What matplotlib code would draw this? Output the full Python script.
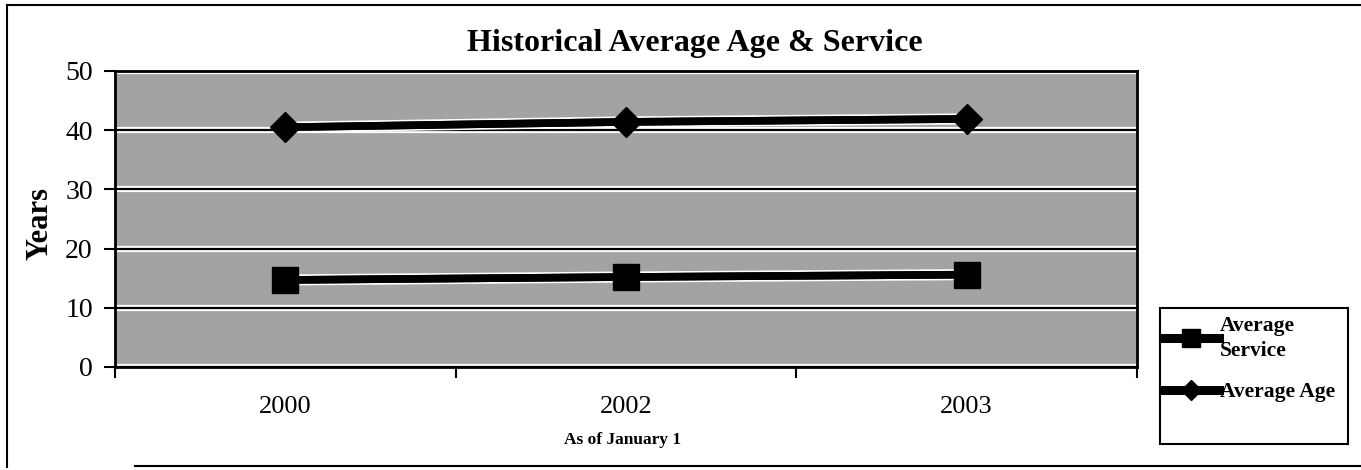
import numpy as np
import matplotlib
matplotlib.use("Agg")
import matplotlib.pyplot as plt
from matplotlib.lines import Line2D
from matplotlib.patches import Rectangle
import matplotlib.patheffects as pe

plt.rcParams['font.family'] = ['Liberation Serif', 'DejaVu Serif']

# Data
years = ['2000', '2002', '2003']
avg_service = [14.7, 15.2, 15.6]
avg_age = [40.5, 41.4, 41.9]
y_ticks = [0, 10, 20, 30, 40, 50]

W, H = 1361, 470
fig = plt.figure(figsize=(W / 100, H / 100), dpi=100)
fig.patch.set_facecolor('white')

def fx(px):
    return px / W

def fy(py):
    return 1 - py / H

ax = fig.add_axes([fx(115), fy(367), fx(1137) - fx(115), fy(71) - fy(367)])
ax.set_facecolor('#a3a3a3')

x = np.arange(len(years))
ax.set_xlim(-0.5, len(years) - 0.5)
ax.set_ylim(0, 50)

# Horizontal gridlines with a light halo
ax.set_yticks(y_ticks)
ax.set_yticklabels([str(v) for v in y_ticks], fontsize=20)
ax.yaxis.grid(True, color='black', linewidth=1.6)
ax.set_axisbelow(True)
for gl in ax.get_ygridlines():
    gl.set_path_effects([pe.withStroke(linewidth=4.5, foreground='white')])

# Category axis: ticks on boundaries, labels centred in each category
ax.set_xticks(np.arange(-0.5, len(years), 1.0))
ax.set_xticklabels([])
ax.set_xticks(x, minor=True)
ax.set_xticklabels(years, minor=True, fontsize=19)
ax.tick_params(axis='x', which='major', direction='out', length=8, width=1.5)
ax.tick_params(axis='x', which='minor', length=0, pad=21)
ax.tick_params(axis='y', direction='out', length=8, width=1.5, pad=8)

for sp in ax.spines.values():
    sp.set_linewidth(2)
    sp.set_color('black')

# Series: thick line with a thin light halo, solid markers on top
halo = [pe.withStroke(linewidth=8.0, foreground='white'), pe.Normal()]
ax.plot(x, avg_service, color='black', lw=5.5, path_effects=halo, zorder=3)
ax.plot(x, avg_service, color='black', ls='none', marker='s', ms=19, zorder=4)
ax.plot(x, avg_age, color='black', lw=5.5, path_effects=halo, zorder=3)
ax.plot(x, avg_age, color='black', ls='none', marker='D', ms=15, zorder=4)

# Titles and labels
fig.text(fx(695), fy(43), 'Historical Average Age & Service', ha='center', va='center',
         fontsize=23, fontweight='bold')
fig.text(fx(40), fy(224), 'Years', ha='center', va='center', rotation=90,
         fontsize=22, fontweight='bold')
fig.text(fx(623), fy(440), 'As of January 1', ha='center', va='center',
         fontsize=12.5, fontweight='bold')

# Legend with its own box
fig.add_artist(Rectangle((fx(1160), fy(444)), fx(1348) - fx(1160), fy(308) - fy(444),
                         transform=fig.transFigure, fill=False, edgecolor='black', lw=1.5))
handles = [
    Line2D([], [], color='black', lw=6.5, marker='s', ms=13),
    Line2D([], [], color='black', lw=6.5, marker='D', ms=10),
]
leg = fig.legend(handles, ['Average\nService', 'Average Age'], loc='upper left',
                 bbox_to_anchor=(fx(1163), fy(316)), frameon=False,
                 prop={'size': 15.5, 'weight': 'bold'},
                 handlelength=2.6, handletextpad=0.05, labelspacing=1.0,
                 borderpad=0, borderaxespad=0)
for t in leg.get_texts():
    t.set_linespacing(1.3)

# Outer border of the chart
fig.add_artist(Line2D([fx(7), fx(7)], [fy(467), fy(5)], transform=fig.transFigure,
                      color='black', lw=1.5))
fig.add_artist(Line2D([fx(7), fx(1361)], [fy(5), fy(5)], transform=fig.transFigure,
                      color='black', lw=1.5))
fig.add_artist(Line2D([fx(135), fx(1361)], [fy(466), fy(466)], transform=fig.transFigure,
                      color='black', lw=1.5))

fig.savefig('out.png', dpi=100, facecolor='white')
